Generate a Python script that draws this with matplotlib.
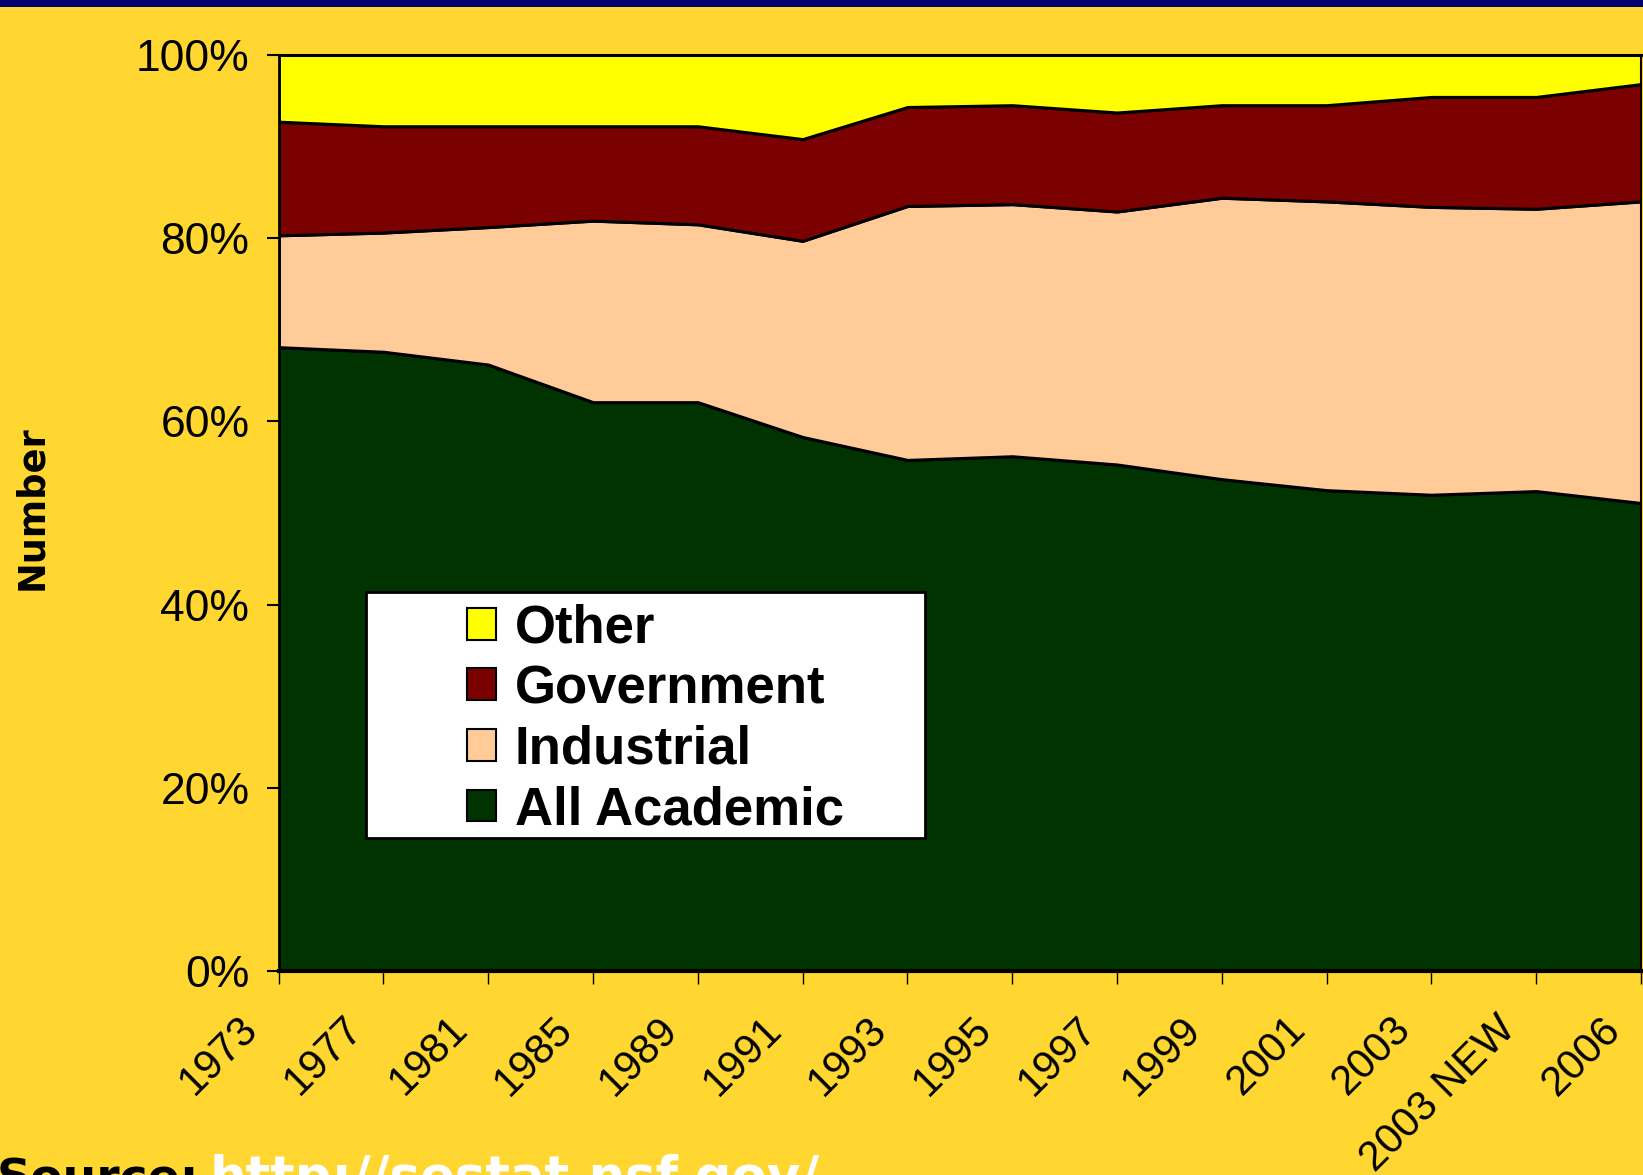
import numpy as np
import matplotlib
matplotlib.use("Agg")
from matplotlib import pyplot as plt
from matplotlib.patches import Patch, Rectangle
from matplotlib.transforms import ScaledTranslation

# shares in percent
years = ['1973', '1977', '1981', '1985', '1989', '1991', '1993', '1995',
         '1997', '1999', '2001', '2003', '2003 NEW', '2006']
academic = [68.1, 67.6, 66.2, 62.1, 62.1, 58.3, 55.8, 56.2, 55.3, 53.7, 52.5, 52.0, 52.4, 51.1]
industrial = [12.2, 13.0, 15.0, 19.8, 19.4, 21.4, 27.7, 27.5, 27.6, 30.7, 31.5, 31.4, 30.8, 32.9]
government = [12.4, 11.6, 11.0, 10.3, 10.7, 11.1, 10.8, 10.8, 10.8, 10.1, 10.5, 12.0, 12.2, 12.8]
other = [7.3, 7.8, 7.8, 7.8, 7.8, 9.2, 5.7, 5.5, 6.3, 5.5, 5.5, 4.6, 4.6, 3.2]

series_names = ['All Academic', 'Industrial', 'Government', 'Other']
series_colors = ['#003300', '#FFCC99', '#7B0000', '#FFFF00']

BG = '#FFD730'
plt.rcParams['font.family'] = ['Liberation Sans', 'DejaVu Sans']


def main():
    fig = plt.figure(figsize=(16.43, 11.75), dpi=100, facecolor=BG)
    # dark band along the top of the slide
    fig.patches.append(Rectangle((0, 1 - 7 / 1175), 1, 7 / 1175, transform=fig.transFigure,
                                 facecolor='#00006E', edgecolor='none'))

    ax = fig.add_axes([0.1696, 0.1733, 0.8292, 0.7801])
    ax.set_facecolor(BG)

    data = np.array([academic, industrial, government, other], dtype=float)
    data = data / data.sum(axis=0)
    x = np.arange(len(years))
    ax.stackplot(x, data, colors=series_colors, edgecolor='black', linewidth=2.2)

    ax.set_xlim(0, len(years) - 1)
    ax.set_ylim(0, 1)
    ax.set_yticks(np.arange(0, 1.01, 0.2))
    ax.set_yticklabels(['%d%%' % v for v in range(0, 101, 20)], fontsize=32)
    ax.set_xticks(x)
    ax.set_xticklabels(years, fontsize=30, rotation=45, ha='right')
    ax.tick_params(axis='y', length=9, width=1.5, pad=12)
    ax.tick_params(axis='x', length=9.5, width=1, pad=14)
    shift = ScaledTranslation(-0.125, -0.05, fig.dpi_scale_trans)
    for lbl in ax.get_xticklabels():
        lbl.set_transform(lbl.get_transform() + shift)

    for side, lw in [('left', 2), ('top', 2.2), ('right', 1.5), ('bottom', 3)]:
        ax.spines[side].set_linewidth(lw)
        ax.spines[side].set_color('black')

    fig.text(0.019, 0.568, 'Number', rotation=90, fontsize=26.5, fontweight='bold',
             family='DejaVu Sans', ha='center', va='center')

    # legend box
    ax.add_patch(Rectangle((0.0639, 0.1455), 0.4107, 0.2684, transform=ax.transAxes,
                           facecolor='white', edgecolor='black', linewidth=2, zorder=5))
    handles = [Patch(facecolor=c, edgecolor='black', linewidth=1.5, label=n)
               for n, c in zip(series_names, series_colors)][::-1]
    leg = ax.legend(handles=handles, loc='center left', bbox_to_anchor=(0.1385, 0.275),
                    frameon=False, borderpad=0, borderaxespad=0,
                    prop={'size': 38, 'weight': 'bold'},
                    handlelength=0.55, handleheight=0.55, handletextpad=0.35,
                    labelspacing=0.2)
    leg.set_zorder(6)

    fig.text(-0.002, -0.0153, 'Source:', fontsize=34, fontweight='bold',
             family='DejaVu Sans', color='black', va='baseline')
    fig.text(0.1276, -0.0153, 'http://sestat.nsf.gov/', fontsize=37, fontweight='bold',
             family='DejaVu Sans', color='white', va='baseline')

    fig.savefig('out.png', dpi=100, facecolor=BG)


if __name__ == "__main__":
    main()
